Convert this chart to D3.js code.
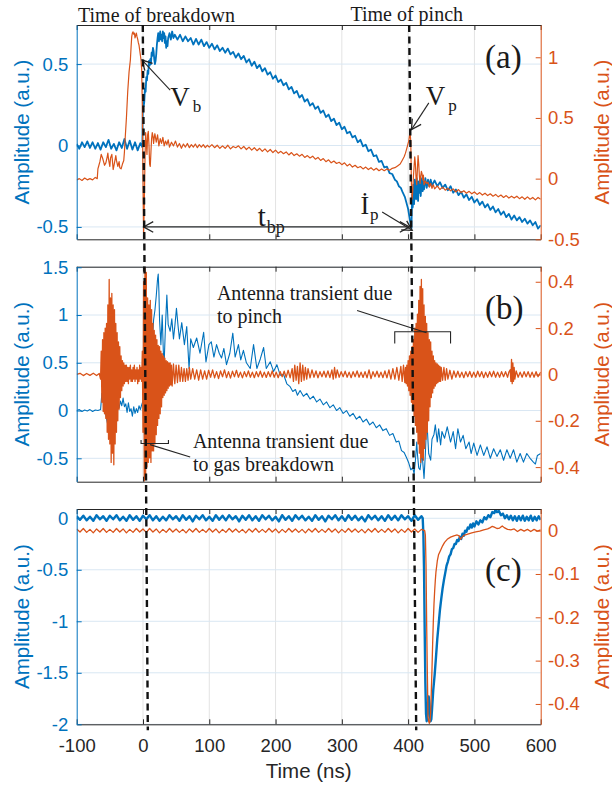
<!DOCTYPE html>
<html><head><meta charset="utf-8">
<script src="https://cdn.jsdelivr.net/npm/d3@7"></script>
<style>body{margin:0;background:#fff} svg{display:block}</style>
</head><body>
<svg id="chart" width="612" height="787"></svg>
<script>
// ---------------- DATA ----------------
const xTicks = [-100, 0, 100, 200, 300, 400, 500, 600];
const aLeftTicks = [-0.5, 0, 0.5];
const aRightTicks = [-0.5, 0, 0.5, 1];
const bLeftTicks = [-0.5, 0, 0.5, 1, 1.5];
const bRightTicks = [-0.4, -0.2, 0, 0.2, 0.4];
const cLeftTicks = [-2, -1.5, -1, -0.5, 0];
const cRightTicks = [-0.4, -0.3, -0.2, -0.1, 0];

// (a) blue: current derivative [time ns, amplitude]
const aBlue = [[-100,0.01],[-96,-0.02],[-92,0.02],[-88,-0.01],[-84,0.025],[-80,-0.015],[-76,0.02],[-72,-0.02],[-68,0.015],[-64,-0.025],[-60,0.02],[-56,-0.01],[-52,0.035],[-48,-0.02],[-44,0.01],[-40,-0.03],[-36,0.02],[-32,-0.015],[-28,0.04],[-24,-0.02],[-20,0.03],[-16,-0.025],[-12,0.02],[-8,-0.03],[-4,0.015],[-1,-0.01],
[0,0.30],[1,0.24],[2,0.27],[3,0.35],[4,0.33],[5,0.42],[6,0.40],[7,0.46],[8,0.44],[9,0.52],[10,0.49],[11,0.53],[12,0.50],[13,0.57],[14,0.55],[15,0.60],[16,0.58],[17,0.53],[18,0.50],[19,0.52],[20,0.56],[21,0.62],[22,0.66],[23,0.69],[24,0.64],[25,0.67],[26,0.70],[27,0.65],[28,0.68],[29,0.64],[30,0.70],[31,0.66],[32,0.69],[33,0.63],[34,0.67],[35,0.60],[36,0.64],[37,0.61],[38,0.66],[40,0.69],[42,0.65],[44,0.70],[46,0.66],
[48,0.68],[52,0.65],[56,0.68],[60,0.64],[64,0.67],[68,0.64],[72,0.66],[76,0.62],[80,0.655],[84,0.62],[88,0.65],[92,0.61],[96,0.635],[100,0.60],[104,0.625],[108,0.59],[112,0.615],[116,0.58],[120,0.60],[124,0.57],[128,0.595],[132,0.56],[136,0.575],[140,0.54],[144,0.565],[148,0.53],[152,0.55],[156,0.51],[160,0.53],[164,0.49],[168,0.515],[172,0.475],[176,0.495],[180,0.455],[184,0.475],[188,0.435],[192,0.45],[196,0.41],[200,0.43],[204,0.39],[208,0.405],[212,0.37],[216,0.385],[220,0.345],[224,0.36],[228,0.32],[232,0.335],[236,0.295],[240,0.31],[244,0.27],[248,0.285],[252,0.245],[256,0.26],[260,0.225],[264,0.24],[268,0.2],[272,0.215],[276,0.175],[280,0.19],[284,0.15],[288,0.165],[292,0.125],[296,0.14],[300,0.10],[304,0.115],[308,0.075],[312,0.085],[316,0.05],[320,0.06],[324,0.02],[328,0.035],[332,-0.005],[336,0.005],[340,-0.035],[344,-0.025],[348,-0.065],[352,-0.06],[356,-0.1],[360,-0.095],[364,-0.135],[368,-0.13],[372,-0.17],[376,-0.175],[380,-0.21],[383,-0.22],[386,-0.25],[389,-0.26],[392,-0.29],[395,-0.315],[398,-0.36],[400,-0.39],[402,-0.44],[404,-0.49],[405,-0.51],
[406,-0.30],[407,-0.38],[408,-0.24],[409,-0.36],[410,-0.21],[411,-0.30],[412,-0.33],[413,-0.20],[414,-0.27],[415,-0.34],[416,-0.22],[417,-0.29],[418,-0.19],[419,-0.31],[420,-0.24],[421,-0.20],[422,-0.28],[423,-0.22],[424,-0.27],[426,-0.20],[428,-0.26],[430,-0.21],[432,-0.25],[434,-0.21],[436,-0.245],[440,-0.215],[444,-0.25],[448,-0.225],[452,-0.26],[456,-0.24],[460,-0.275],[464,-0.25],[468,-0.29],[472,-0.27],[476,-0.305],[480,-0.285],[484,-0.32],[488,-0.30],[492,-0.335],[496,-0.315],[500,-0.35],[504,-0.33],[508,-0.365],[512,-0.345],[516,-0.38],[520,-0.36],[524,-0.395],[528,-0.375],[532,-0.41],[536,-0.39],[540,-0.425],[544,-0.405],[548,-0.44],[552,-0.42],[556,-0.455],[560,-0.43],[564,-0.46],[568,-0.44],[572,-0.47],[576,-0.45],[580,-0.48],[584,-0.46],[588,-0.49],[592,-0.47],[596,-0.51],[600,-0.49]];

// (a) orange: voltage
const aOrange = [[-100,-0.01],[-96,0.0],[-92,-0.015],[-88,0.005],[-84,-0.01],[-80,0.0],[-76,-0.01],[-72,0.01],[-69,0.0],[-68,0.08],[-67,0.10],[-65,0.14],[-63,0.2],[-61,0.17],[-60,0.15],[-58,0.11],[-56,0.13],[-54,0.18],[-53,0.21],[-52,0.16],[-50,0.10],[-49,0.17],[-47,0.20],[-46,0.14],[-45,0.075],[-43,0.13],[-41,0.19],[-40,0.15],[-38,0.10],[-36,0.14],[-35,0.09],[-33,0.08],[-31,0.12],[-29,0.15],[-28,0.22],[-27,0.32],[-25,0.5],[-23,0.72],[-21,0.88],[-19,0.98],[-18,1.08],[-17,1.17],[-16,1.2],[-15,1.21],[-14,1.19],[-13,1.2],[-12,1.16],[-11,1.18],[-10,1.2],[-9,1.17],[-8,1.15],[-7,1.12],[-6,1.10],[-5,1.06],[-4,1.02],[-3,0.98],[-2,0.9],[-1,0.6],[0,0.0],[1,-0.45],[2,-0.2],[3,0.15],[4,0.38],[5,0.30],[6,0.2],[7,0.36],[8,0.39],[9,0.28],[10,0.12],[11,0.1],[12,0.22],[13,0.33],[14,0.38],[15,0.35],[16,0.29],[17,0.34],[18,0.37],[20,0.30],[22,0.36],[24,0.27],[26,0.33],[28,0.29],[30,0.34],[32,0.27],[34,0.31],[36,0.28],[38,0.32],[40,0.26],[43,0.30],[46,0.27],[49,0.31],[52,0.26],[55,0.29],[58,0.25],[61,0.285],[64,0.26],[67,0.29],[70,0.255],[73,0.28],[76,0.26],[79,0.285],[82,0.255],[85,0.28],[88,0.26],[91,0.28],[94,0.255],[97,0.275],[100,0.26],[104,0.28],[108,0.255],[112,0.275],[116,0.25],[120,0.27],[124,0.25],[128,0.275],[132,0.245],[136,0.265],[140,0.255],[144,0.27],[148,0.245],[152,0.265],[156,0.24],[160,0.26],[164,0.235],[168,0.255],[172,0.23],[176,0.25],[180,0.225],[184,0.245],[188,0.22],[192,0.24],[196,0.215],[200,0.235],[204,0.21],[208,0.225],[212,0.205],[216,0.22],[220,0.195],[224,0.215],[228,0.19],[232,0.205],[236,0.185],[240,0.2],[244,0.175],[248,0.19],[252,0.17],[256,0.185],[260,0.16],[264,0.175],[268,0.15],[272,0.165],[276,0.14],[280,0.155],[284,0.13],[288,0.145],[292,0.125],[296,0.135],[300,0.115],[304,0.13],[308,0.105],[312,0.12],[316,0.095],[320,0.11],[324,0.09],[328,0.1],[332,0.08],[336,0.095],[340,0.075],[344,0.09],[348,0.07],[352,0.085],[356,0.065],[360,0.08],[364,0.065],[368,0.08],[372,0.07],[376,0.085],[380,0.09],[384,0.105],[388,0.12],[391,0.15],[394,0.18],[396,0.21],[398,0.25],[400,0.29],[401,0.31],[402,0.35],[403,0.39],[404,0.3],[405,-0.05],[406,-0.17],[407,-0.1],[408,0.02],[409,0.1],[410,0.18],[411,0.12],[412,0.0],[413,-0.05],[414,0.08],[415,0.19],[416,0.12],[417,0.02],[418,-0.04],[419,0.02],[420,0.06],[421,0.04],[422,-0.01],[423,0.03],[424,-0.05],[426,-0.02],[428,-0.04],[430,-0.03],[432,-0.07],[434,-0.04],[436,-0.08],[438,-0.05],[440,-0.085],[444,-0.06],[448,-0.09],[452,-0.07],[456,-0.095],[460,-0.08],[464,-0.1],[468,-0.085],[472,-0.11],[476,-0.09],[480,-0.115],[484,-0.1],[488,-0.12],[492,-0.105],[496,-0.125],[500,-0.11],[504,-0.13],[508,-0.115],[512,-0.135],[516,-0.12],[520,-0.14],[524,-0.125],[528,-0.145],[532,-0.13],[536,-0.15],[540,-0.135],[544,-0.155],[548,-0.14],[552,-0.16],[556,-0.145],[560,-0.16],[564,-0.145],[568,-0.165],[572,-0.15],[576,-0.17],[580,-0.15],[584,-0.17],[588,-0.155],[592,-0.175],[596,-0.155],[600,-0.17]];

// (b) blue
const bBlue = [[-100,0.0],[-96,0.01],[-92,-0.01],[-88,0.005],[-84,-0.005],[-80,0.01],[-76,-0.01],[-72,0.005],[-68,0.0],[-64,0.01],[-62,0.18],[-60,0.1],[-58,0.02],[-56,-0.05],[-54,-0.12],[-52,-0.19],[-50,-0.1],[-48,0.0],[-46,-0.03],[-44,0.05],[-42,0.02],[-40,-0.01],[-38,0.09],[-36,0.03],[-34,0.1],[-32,0.05],[-30,0.13],[-28,0.04],[-26,0.07],[-24,-0.02],[-22,0.08],[-20,-0.01],[-18,0.02],[-16,-0.06],[-14,0.04],[-12,-0.03],[-10,0.02],[-8,-0.02],[-6,0.05],[-4,0.01],[-2,0.06],[0,0.1],[2,0.2],[4,0.35],[6,0.3],[8,0.55],[10,0.5],[12,0.75],[14,0.7],[16,0.95],[18,1.05],[20,1.2],[22,1.38],[23,1.43],[24,1.25],[25,0.95],[27,0.69],[29,1.0],[31,0.55],[32,0.51],[34,0.9],[36,1.21],[38,0.9],[41,0.83],[43.5,0.96],[46,0.75],[48,0.88],[50.5,1.07],[53,0.88],[55,0.75],[58.5,0.92],[62.5,0.69],[66,0.88],[69.5,0.44],[72,0.75],[76,0.66],[81,0.76],[86,0.6],[91.5,0.82],[95,0.51],[99.5,0.69],[103,0.72],[107,0.56],[111,0.69],[115,0.6],[118.5,0.55],[122,0.65],[126,0.48],[131,0.6],[135.5,0.81],[139,0.56],[144,0.69],[147.5,0.53],[151.5,0.63],[156,0.5],[161.8,0.44],[166.8,0.69],[171.8,0.44],[177,0.54],[182,0.66],[186,0.44],[192,0.51],[197,0.41],[202,0.48],[207,0.37],[212,0.38],[217,0.28],[222,0.25],[226,0.2],[230,0.22],[233,0.16],[237,0.21],[242,0.15],[247,0.18],[252,0.12],[257,0.15],[262,0.09],[267,0.12],[272,0.06],[277,0.09],[282,0.03],[287,0.06],[292,0.0],[297,0.03],[302,-0.03],[307,0.0],[312,-0.06],[317,-0.03],[322,-0.09],[327,-0.06],[332,-0.12],[337,-0.09],[342,-0.15],[347,-0.12],[352,-0.18],[357,-0.15],[362,-0.21],[367,-0.19],[372,-0.26],[377,-0.24],[382,-0.33],[386,-0.32],[390,-0.42],[394,-0.44],[398,-0.50],[401,-0.55],[404,-0.62],[407,-0.60],[409,-0.66],[411,-0.52],[413,-0.33],[414,-0.45],[416,-0.60],[418,-0.62],[420,-0.50],[421,-0.45],[423,-0.62],[424,-0.71],[426,-0.45],[428,-0.12],[429,-0.20],[431,-0.45],[434,-0.52],[436,-0.30],[439,-0.25],[441,-0.15],[444,-0.33],[446,-0.19],[449,-0.36],[451,-0.22],[455,-0.29],[459,-0.17],[464,-0.33],[468,-0.22],[471.6,-0.40],[475,-0.19],[479,-0.33],[483,-0.26],[487,-0.40],[492,-0.33],[495,-0.45],[499,-0.34],[504,-0.47],[509,-0.36],[514,-0.47],[519,-0.38],[524,-0.50],[529,-0.40],[534,-0.48],[539,-0.41],[544,-0.52],[549,-0.41],[554,-0.50],[559,-0.41],[564,-0.54],[569,-0.45],[574,-0.54],[579,-0.45],[584,-0.50],[589,-0.54],[592,-0.56],[595,-0.47],[600,-0.45]];

// (b) orange: antenna signal
const bOrange = [[-100,0.0],[-95,0.005],[-90,-0.005],[-85,0.004],[-80,-0.004],[-75,0.005],[-70,-0.005],[-66,0.004],[-64,-0.02],
[-63,0.1],[-62,-0.12],[-61,0.15],[-60,-0.16],[-59,0.18],[-58,-0.17],[-57,0.2],[-56,-0.19],[-55,0.22],[-54,-0.25],[-53,0.3],[-52,-0.28],[-51,0.41],[-50,-0.3],[-49,0.33],[-48,-0.38],[-47,0.35],[-46,-0.34],[-45,0.3],[-44,-0.39],[-43,0.28],[-42,-0.3],[-41,0.22],[-40,-0.25],[-39,0.18],[-38,-0.2],[-37,0.14],[-36,-0.15],[-35,0.12],[-34,-0.1],[-33,0.08],[-32,-0.07],[-31,0.06],[-30,-0.05],[-29,0.05],[-28,-0.04],[-27,0.04],[-26,-0.03],[-25,0.04],[-24,-0.03],[-23,0.03],[-22,-0.04],[-21,0.03],[-20,-0.02],[-19,0.04],[-18,-0.03],[-17,0.02],[-16,-0.03],[-15,0.03],[-14,-0.02],[-13,0.04],[-12,-0.03],[-11,0.02],[-10,-0.02],[-9,0.03],[-8,-0.04],[-7,0.02],[-6,-0.03],[-5,0.04],[-4,-0.02],[-3,0.03],[-2,-0.03],
[-1,0.1],[0,-0.25],[1,0.40],[2,-0.46],[3,0.46],[4,-0.45],[5,0.44],[6,-0.40],[7,0.33],[8,-0.38],[9,0.30],[10,-0.36],[11,0.32],[12,-0.38],[13,0.28],[14,-0.33],[15,0.22],[16,-0.33],[17,0.19],[18,-0.30],[19,0.17],[20,-0.26],[21,0.15],[22,-0.22],[23,0.125],[24,-0.19],[25,0.12],[26,-0.17],[27,0.1],[28,-0.14],[29,0.09],[30,-0.1],[31,0.08],[32,-0.09],[33,0.07],[34,-0.08],[35,0.06],[36,-0.07],[37,0.055],[38,-0.06],[39,0.05],[40,-0.05],[41,0.05],[42,-0.045],[43,0.04],[44,-0.05],[46,0.045],[48,-0.04],[50,0.04],[52,-0.035],[54,0.04],[56,-0.03],[58,0.03],[60,-0.03],[62,0.025],[64,-0.03],[66,0.025],[68,-0.025],[70,0.03],[72,-0.02],[75,0.025],[78,-0.02],[81,0.02],[84,-0.025],[87,0.02],[90,-0.02],
[93,0.015],[96,-0.02],[99,0.018],[102,-0.012],[105,0.02],[108,-0.015],[111,0.012],[114,-0.018],[117,0.015],[120,-0.01],[123,0.02],[126,-0.014],[129,0.012],[132,-0.016],[135,0.014],[138,-0.01],[141,0.018],[144,-0.012],[147,0.01],[150,-0.015],[153,0.012],[156,-0.01],[159,0.015],[162,-0.012],[165,0.01],[168,-0.014],[171,0.012],[174,-0.01],[177,0.014],[180,-0.012],[183,0.01],[186,-0.013],[189,0.012],[192,-0.01],[195,0.015],[198,-0.012],[201,0.01],[204,-0.014],[207,0.012],[210,-0.01],[213,0.014],[216,-0.012],[219,0.018],[222,-0.015],[225,0.025],[227,-0.03],[229,0.04],[231,-0.025],[233,0.035],[235,-0.04],[237,0.05],[239,-0.03],[241,0.04],[243,-0.025],[245,0.03],[247,-0.02],[249,0.025],[252,-0.015],[255,0.02],[258,-0.012],[261,0.015],[264,-0.015],[267,0.012],[270,-0.01],[273,0.014],[276,-0.012],[279,0.015],[282,-0.014],[285,0.02],[287,-0.02],[289,0.03],[291,-0.015],[293,0.02],[296,-0.012],[299,0.012],[302,-0.01],[305,0.014],[308,-0.012],[311,0.01],[314,-0.014],[317,0.012],[320,-0.01],[323,0.015],[326,-0.012],[329,0.01],[332,-0.013],[335,0.012],[338,-0.015],[341,0.02],[344,-0.018],[347,0.012],[350,-0.01],[353,0.014],[356,-0.012],[359,0.01],[362,-0.014],[365,0.015],[368,-0.015],[371,0.02],[374,-0.02],[377,0.025],[380,-0.02],[383,0.03],[386,-0.025],[389,0.035],[391,-0.03],[393,0.04],[395,-0.035],
[396,0.03],[397,-0.04],[398,0.04],[399,-0.05],[400,0.06],[401,-0.07],[402,0.08],[403,-0.09],[404,0.1],[405,-0.12],[406,0.12],[407,-0.15],[408,0.15],[409,-0.18],[410,0.2],[411,-0.22],[412,0.22],[413,-0.25],[414,0.26],[415,-0.3],[416,0.32],[417,-0.34],[418,0.38],[419,-0.38],[420,0.41],[421,-0.36],[422,0.37],[423,-0.37],[424,0.3],[425,-0.32],[426,0.25],[427,-0.28],[428,0.22],[429,-0.25],[430,0.18],[431,-0.2],[432,0.15],[433,-0.14],[434,0.14],[435,-0.1],[436,0.1],[437,-0.08],[438,0.08],[439,-0.06],[440,0.06],[441,-0.05],[442,0.05],[443,-0.04],[444,0.045],[445,-0.035],[446,0.04],[447,-0.03],[448,0.035],[449,-0.03],[450,0.03],
[452,-0.025],[454,0.03],[456,-0.025],[458,0.025],[460,-0.02],[463,0.018],[466,-0.02],[469,0.015],[472,-0.012],[475,0.014],[478,-0.012],[481,0.01],[484,-0.014],[487,0.012],[490,-0.01],[493,0.013],[496,-0.012],[499,0.01],[502,-0.012],[505,0.014],[508,-0.01],[511,0.012],[514,-0.014],[517,0.01],[520,-0.012],[523,0.012],[526,-0.01],[529,0.014],[532,-0.012],[535,0.01],[538,-0.012],[541,0.012],[544,-0.01],[547,0.012],[550,-0.012],[552,0.01],[554,0.02],[555,-0.03],[556,0.065],[557,-0.04],[558,0.05],[559,-0.03],[560,0.03],[561,-0.02],[563,0.015],[566,-0.012],[569,0.01],[572,-0.012],[575,0.012],[578,-0.01],[581,0.012],[584,-0.012],[587,0.01],[590,-0.012],[593,0.012],[596,-0.01],[600,0.01]];

// (c) blue
const cBlue = [[-100,0.02],[-95,-0.015],[-90,0.025],[-85,-0.02],[-80,0.015],[-75,-0.025],[-70,0.03],[-65,-0.01],[-60,0.02],[-55,-0.025],[-50,0.025],[-45,-0.01],[-40,0.03],[-35,-0.02],[-30,0.015],[-25,-0.025],[-20,0.03],[-15,-0.015],[-10,0.02],[-5,-0.025],[0,0.025],[5,-0.01],[10,0.03],[15,-0.02],[20,0.02],[25,-0.025],[30,0.015],[35,-0.02],[40,0.03],[45,-0.01],[50,0.02],[55,-0.025],[60,0.03],[65,-0.015],[70,0.02],[75,-0.03],[80,0.025],[85,-0.01],[90,0.03],[95,-0.02],[100,0.015],[105,-0.025],[110,0.03],[115,-0.015],[120,0.025],[125,-0.02],[130,0.03],[135,-0.01],[140,0.02],[145,-0.03],[150,0.025],[155,-0.015],[160,0.03],[165,-0.02],[170,0.02],[175,-0.025],[180,0.03],[185,-0.01],[190,0.025],[195,-0.02],[200,0.015],[205,-0.03],[210,0.03],[215,-0.015],[220,0.02],[225,-0.025],[230,0.03],[235,-0.01],[240,0.025],[245,-0.02],[250,0.015],[255,-0.025],[260,0.03],[265,-0.015],[270,0.02],[275,-0.03],[280,0.025],[285,-0.01],[290,0.03],[295,-0.02],[300,0.02],[305,-0.025],[310,0.03],[315,-0.015],[320,0.025],[325,-0.02],[330,0.015],[335,-0.03],[340,0.03],[345,-0.01],[350,0.025],[355,-0.02],[360,0.02],[365,-0.025],[370,0.03],[375,-0.015],[380,0.025],[385,-0.02],[390,0.03],[395,-0.01],[400,0.02],[405,-0.025],[410,0.03],[415,-0.015],[420,0.02],[422,0.0],[423,-0.15],[424,-0.5],[425,-1.1],[426,-1.6],[427,-1.9],[428,-1.97],[429,-1.92],[430,-1.82],[431,-1.73],[432,-1.8],[433,-1.92],[434,-1.97],[435,-1.95],[436,-1.86],[437,-1.76],[438,-1.66],[440,-1.52],[442,-1.35],[444,-1.17],[446,-1.03],[448,-0.89],[450,-0.78],[452,-0.68],[454,-0.6],[456,-0.53],[458,-0.46],[460,-0.42],[462,-0.37],[464,-0.35],[466,-0.3],[468,-0.29],[470,-0.25],[472,-0.25],[474,-0.21],[476,-0.22],[478,-0.18],[480,-0.2],[482,-0.15],[484,-0.17],[486,-0.12],[488,-0.13],[490,-0.09],[492,-0.1],[494,-0.06],[496,-0.09],[498,-0.05],[500,-0.08],[503,-0.03],[506,-0.06],[509,-0.02],[512,-0.04],[515,0.01],[518,-0.01],[521,0.03],[524,0.01],[527,0.06],[530,0.05],[532,0.085],[534,0.06],[537,0.07],[540,0.03],[543,0.045],[546,0.0],[549,0.03],[552,-0.01],[555,0.025],[558,-0.02],[561,0.02],[564,-0.025],[567,0.02],[570,-0.02],[573,0.025],[576,-0.025],[579,0.015],[582,-0.02],[585,0.025],[588,-0.025],[591,0.015],[594,-0.02],[597,0.02],[600,-0.015]];

// (c) orange
const cOrange = [[-100,0.004],[-95,-0.003],[-90,0.005],[-85,-0.004],[-80,0.003],[-75,-0.005],[-70,0.004],[-65,-0.003],[-60,0.005],[-55,-0.004],[-50,0.003],[-45,-0.004],[-40,0.005],[-35,-0.003],[-30,0.004],[-25,-0.005],[-20,0.003],[-15,-0.004],[-10,0.005],[-5,-0.003],[0,0.004],[5,-0.004],[10,0.005],[15,-0.003],[20,0.004],[25,-0.005],[30,0.003],[35,-0.004],[40,0.005],[45,-0.003],[50,0.004],[55,-0.004],[60,0.003],[65,-0.005],[70,0.004],[75,-0.003],[80,0.005],[85,-0.004],[90,0.003],[95,-0.004],[100,0.005],[105,-0.003],[110,0.004],[115,-0.005],[120,0.003],[125,-0.004],[130,0.005],[135,-0.003],[140,0.004],[145,-0.004],[150,0.003],[155,-0.005],[160,0.004],[165,-0.003],[170,0.005],[175,-0.004],[180,0.003],[185,-0.004],[190,0.005],[195,-0.003],[200,0.004],[205,-0.005],[210,0.003],[215,-0.004],[220,0.005],[225,-0.003],[230,0.004],[235,-0.004],[240,0.003],[245,-0.005],[250,0.004],[255,-0.003],[260,0.005],[265,-0.004],[270,0.003],[275,-0.004],[280,0.005],[285,-0.003],[290,0.004],[295,-0.005],[300,0.003],[305,-0.004],[310,0.005],[315,-0.003],[320,0.004],[325,-0.004],[330,0.003],[335,-0.005],[340,0.004],[345,-0.003],[350,0.005],[355,-0.004],[360,0.003],[365,-0.004],[370,0.005],[375,-0.003],[380,0.004],[385,-0.005],[390,0.003],[395,-0.004],[400,0.005],[405,-0.003],[410,0.004],[415,-0.004],[420,0.003],[425,0.0],[426,-0.01],[427,-0.08],[428,-0.22],[429,-0.33],[430,-0.43],[431,-0.44],[432,-0.445],[433,-0.44],[434,-0.42],[435,-0.37],[436,-0.32],[437,-0.26],[438,-0.21],[439,-0.17],[440,-0.14],[441,-0.115],[442,-0.095],[444,-0.07],[446,-0.055],[449,-0.045],[452,-0.035],[455,-0.027],[459,-0.02],[464,-0.015],[469,-0.012],[474,-0.01],[477,-0.012],[479,-0.02],[481,-0.016],[484,-0.011],[490,-0.008],[496,-0.005],[502,-0.003],[508,-0.001],[514,0.002],[520,0.004],[524,0.007],[527,0.01],[530,0.008],[534,0.005],[538,0.006],[542,0.011],[545,0.007],[550,0.003],[555,0.002],[560,0.004],[565,-0.002],[570,0.003],[575,-0.001],[580,0.003],[585,-0.002],[590,0.003],[595,-0.001],[600,0.002]];

// annotation anchors (data units)
const breakdownT = [-0.3, 7.3];
const pinchT = [401.6, 412.2];

// ---------------- DRAW ----------------
const BLUE = '#0072BD', ORANGE = '#D95319', DARK = '#262626';
const SANS = '"Liberation Sans", Arial, Helvetica, sans-serif';
const SERIF = '"Liberation Serif", "Times New Roman", Times, serif';
const svg = d3.select('#chart');
const X0 = 76.7, X1 = 540.7;
const x = d3.scaleLinear().domain([-100, 600]).range([X0, X1]);

const panels = [
  {id:'a', top:25, bottom:239.3, lDom:[-0.576,0.74], rDom:[-0.5,1.266], lTicks:aLeftTicks, rTicks:aRightTicks, blue:aBlue, orange:aOrange, labels:false, bw:1.8, ow:1.2},
  {id:'b', top:266.7, bottom:481.7, lDom:[-0.745,1.506], rDom:[-0.463,0.465], lTicks:bLeftTicks, rTicks:bRightTicks, blue:bBlue, orange:bOrange, labels:false, bw:1.1, ow:1.3},
  {id:'c', top:509, bottom:724.3, lDom:[-2,0.09], rDom:[-0.447,0.05], lTicks:cLeftTicks, rTicks:cRightTicks, blue:cBlue, orange:cOrange, labels:true, bw:2.4, ow:1.3}
];
const fmt = d => d === 0 ? '0' : String(d);

panels.forEach(p => {
  const yL = d3.scaleLinear().domain(p.lDom).range([p.bottom, p.top]);
  const yR = d3.scaleLinear().domain(p.rDom).range([p.bottom, p.top]);
  p.yL = yL; p.yR = yR;
  const g = svg.append('g');
  // grid
  g.append('g').selectAll('line').data(xTicks.slice(1, -1)).join('line')
    .attr('x1', d => x(d)).attr('x2', d => x(d)).attr('y1', p.top).attr('y2', p.bottom)
    .attr('stroke', '#e3e3e3').attr('stroke-width', 1);
  g.append('g').selectAll('line').data(p.lTicks).join('line')
    .attr('x1', X0).attr('x2', X1).attr('y1', d => yL(d)).attr('y2', d => yL(d))
    .attr('stroke', '#d9e7f3').attr('stroke-width', 1);
  // clip
  svg.append('clipPath').attr('id', 'clip' + p.id).append('rect')
    .attr('x', X0).attr('y', p.top).attr('width', X1 - X0).attr('height', p.bottom - p.top);
  const dg = g.append('g').attr('clip-path', `url(#clip${p.id})`);
  dg.append('path').datum(p.blue)
    .attr('d', d3.line().x(d => x(d[0])).y(d => yL(d[1])))
    .attr('fill', 'none').attr('stroke', BLUE).attr('stroke-width', p.bw).attr('stroke-linejoin', 'round');
  dg.append('path').datum(p.orange)
    .attr('d', d3.line().x(d => x(d[0])).y(d => yR(d[1])))
    .attr('fill', 'none').attr('stroke', ORANGE).attr('stroke-width', p.ow).attr('stroke-linejoin', 'round');
  // axes
  const styleAxis = (ax, color, size) => {
    ax.attr('font-family', SANS).attr('font-size', size);
    ax.select('.domain').attr('stroke', color).attr('stroke-width', 1);
    ax.selectAll('.tick line').attr('stroke', color).attr('stroke-width', 1);
    ax.selectAll('.tick text').attr('fill', color);
  };
  const bot = g.append('g').attr('transform', `translate(0,${p.bottom})`)
    .call(d3.axisBottom(x).tickValues(xTicks).tickSize(-5).tickSizeOuter(0).tickPadding(14.3)
      .tickFormat(p.labels ? fmt : () => ''));
  styleAxis(bot, DARK, 18.5);
  const top = g.append('g').attr('transform', `translate(0,${p.top})`)
    .call(d3.axisTop(x).tickValues(xTicks).tickSize(-5).tickSizeOuter(0).tickFormat(() => ''));
  styleAxis(top, DARK, 18.5);
  const left = g.append('g').attr('transform', `translate(${X0},0)`)
    .call(d3.axisLeft(yL).tickValues(p.lTicks).tickSize(-5).tickSizeOuter(0).tickPadding(8.4).tickFormat(fmt));
  styleAxis(left, BLUE, 18.5);
  const right = g.append('g').attr('transform', `translate(${X1},0)`)
    .call(d3.axisRight(yR).tickValues(p.rTicks).tickSize(-5).tickSizeOuter(0).tickPadding(7.3).tickFormat(fmt));
  styleAxis(right, ORANGE, 18.5);
  // axis titles
  const cy = (p.top + p.bottom) / 2;
  svg.append('text').attr('transform', `translate(21,${cy}) rotate(-90)`)
    .attr('text-anchor', 'middle').attr('dominant-baseline', 'central')
    .attr('font-family', SANS).attr('font-size', 20.5).attr('fill', BLUE).text('Amplitude (a.u.)');
  svg.append('text').attr('transform', `translate(601.5,${cy}) rotate(-90)`)
    .attr('text-anchor', 'middle').attr('dominant-baseline', 'central')
    .attr('font-family', SANS).attr('font-size', 20.5).attr('fill', ORANGE).text('Amplitude (a.u.)');
});

svg.append('text').attr('x', (X0 + X1) / 2).attr('y', 778).attr('text-anchor', 'middle')
  .attr('font-family', SANS).attr('font-size', 20.5).attr('fill', DARK).text('Time (ns)');

// ---------------- ANNOTATIONS ----------------
const [A, B, C] = panels;
const ann = svg.append('g').attr('fill', '#1a1a1a').attr('font-family', SERIF);

function head(g, tx, ty, fx, fy) {
  const a = Math.atan2(ty - fy, tx - fx), L = 11, s = 0.5;
  g.append('path').attr('d', `M${tx - L * Math.cos(a - s)},${ty - L * Math.sin(a - s)}L${tx},${ty}L${tx - L * Math.cos(a + s)},${ty - L * Math.sin(a + s)}`)
    .attr('fill', 'none').attr('stroke', DARK).attr('stroke-width', 1.3);
}
function arrow(x1, y1, x2, y2, both) {
  const g = svg.append('g');
  g.append('line').attr('x1', x1).attr('y1', y1).attr('x2', x2).attr('y2', y2).attr('stroke', DARK).attr('stroke-width', 1.1);
  head(g, x2, y2, x1, y1);
  if (both) head(g, x1, y1, x2, y2);
}
function subText(xp, yp, main, sub, mainSize, subSize, dx, dy) {
  const t = ann.append('text').attr('x', xp).attr('y', yp).attr('font-size', mainSize);
  t.append('tspan').text(main);
  t.append('tspan').attr('font-size', subSize).attr('dx', dx).attr('dy', dy).text(sub);
}

// titles above (a)
ann.append('text').attr('x', x(-98)).attr('y', A.top - 3).attr('font-size', 20).text('Time of breakdown');
ann.append('text').attr('x', x(313)).attr('y', A.top - 4).attr('font-size', 20).text('Time of pinch');
// panel letters
ann.append('text').attr('x', x(516)).attr('y', A.yL(0.476)).attr('font-size', 33).text('(a)');
ann.append('text').attr('x', x(516)).attr('y', B.yR(0.238)).attr('font-size', 33).text('(b)');
ann.append('text').attr('x', x(516)).attr('y', C.yR(-0.117)).attr('font-size', 33).text('(c)');

// V_b, V_p, I_p, t_bp
subText(x(41), A.yL(0.242), 'V', 'b', 27, 17, 3, 6);
arrow(x(41), A.yL(0.34), x(-1.3), A.yL(0.525));
subText(x(426.7), A.yR(0.61), 'V', 'p', 27, 17, 3, 6);
arrow(x(431.2), A.yR(0.624), x(405), A.yR(0.404));
subText(x(328), A.yL(-0.418), 'İ', 'p', 26, 17, 1, 6);
arrow(x(360.8), A.yL(-0.408), x(406.1), A.yL(-0.521));
arrow(x(0.9), A.yL(-0.5), x(402), A.yL(-0.5), true);
subText(x(173), A.yL(-0.497), 't', 'bp', 29, 18, 1, 7);

// (b) annotations
const t1 = ann.append('text').attr('font-size', 20);
t1.append('tspan').attr('x', x(111.5)).attr('y', B.yR(0.323)).text('Antenna transient due');
t1.append('tspan').attr('x', x(111.5)).attr('y', B.yR(0.22)).text('to pinch');
const t2 = ann.append('text').attr('font-size', 20);
t2.append('tspan').attr('x', x(75.3)).attr('y', B.yR(-0.319)).text('Antenna transient due');
t2.append('tspan').attr('x', x(75.3)).attr('y', B.yR(-0.415)).text('to gas breakdown');

const br = svg.append('g').attr('fill', 'none').attr('stroke', DARK).attr('stroke-width', 1.1);
br.append('path').attr('d', `M${x(379.8)},${B.yR(0.133)}V${B.yR(0.184)}H${x(464)}V${B.yR(0.133)}`);
br.append('line').attr('x1', x(323)).attr('y1', B.yR(0.276)).attr('x2', x(427.7)).attr('y2', B.yR(0.18));
br.append('path').attr('d', `M${x(-2.9)},${B.yR(-0.283)}V${B.yR(-0.298)}H${x(38.4)}V${B.yR(-0.283)}`);
br.append('line').attr('x1', x(10.7)).attr('y1', B.yR(-0.303)).attr('x2', x(71.2)).attr('y2', B.yR(-0.356));

// dashed event lines across all panels
const dash = svg.append('g').attr('stroke', '#111').attr('stroke-width', 2.4).attr('stroke-dasharray', '7,4.5');
[breakdownT, pinchT].forEach(tt => {
  dash.append('line').attr('x1', x(tt[0])).attr('y1', A.top).attr('x2', x(tt[1])).attr('y2', C.bottom + 6);
});
</script>
</body></html>
